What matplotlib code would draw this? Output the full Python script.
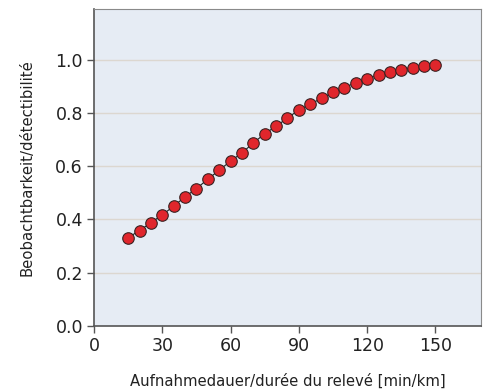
import matplotlib
matplotlib.use('Agg')
import matplotlib.pyplot as plt

# --- data ---
minutes = [15, 20, 25, 30, 35, 40, 45, 50, 55, 60, 65, 70, 75, 80, 85, 90,
           95, 100, 105, 110, 115, 120, 125, 130, 135, 140, 145, 150]
detect = [0.332, 0.358, 0.388, 0.417, 0.450, 0.485, 0.516, 0.551, 0.585, 0.619,
          0.650, 0.687, 0.722, 0.750, 0.781, 0.811, 0.833, 0.855, 0.877, 0.895,
          0.914, 0.929, 0.941, 0.954, 0.961, 0.970, 0.975, 0.981]
x_ticks = [0, 30, 60, 90, 120, 150]
y_ticks = [0.0, 0.2, 0.4, 0.6, 0.8, 1.0]

plt.rcParams['font.family'] = ['DejaVu Sans']

fig = plt.figure(figsize=(4.85, 3.89), dpi=100)
ax = fig.add_axes([94 / 485, 1 - 326 / 389, 387 / 485, 317 / 389])
ax.set_facecolor('#e6ecf4')

# gridlines
for y in y_ticks[1:]:
    ax.axhline(y, color='#dcd7d0', linewidth=1, zorder=1)

ax.plot(minutes, detect, color='#222222', linewidth=0.8, zorder=2)
ax.plot(minutes, detect, 'o', markersize=8.3, markerfacecolor='#e0262c',
        markeredgecolor='#3a2222', markeredgewidth=0.8, zorder=3)

ax.set_xlim(0, 170)
ax.set_ylim(0, 1.19)
ax.set_xticks(x_ticks)
ax.set_yticks(y_ticks)
ax.set_yticklabels([f'{v:.1f}' for v in y_ticks])
ax.tick_params(axis='both', labelsize=12.5, length=5, width=1, color='#555555',
               labelcolor='#222222', pad=3)

for side in ['top', 'right']:
    ax.spines[side].set_color('#8a8a8a')
    ax.spines[side].set_linewidth(0.8)
for side in ['left', 'bottom']:
    ax.spines[side].set_color('#555555')
    ax.spines[side].set_linewidth(1.2)

ax.set_xlabel('Aufnahmedauer/durée du relevé [min/km]', fontsize=10.7,
              color='#222222', labelpad=13)
ax.set_ylabel('Beobachtbarkeit/détectibilité', fontsize=10.7,
              color='#222222', labelpad=15)

fig.savefig('out.png', dpi=100)
